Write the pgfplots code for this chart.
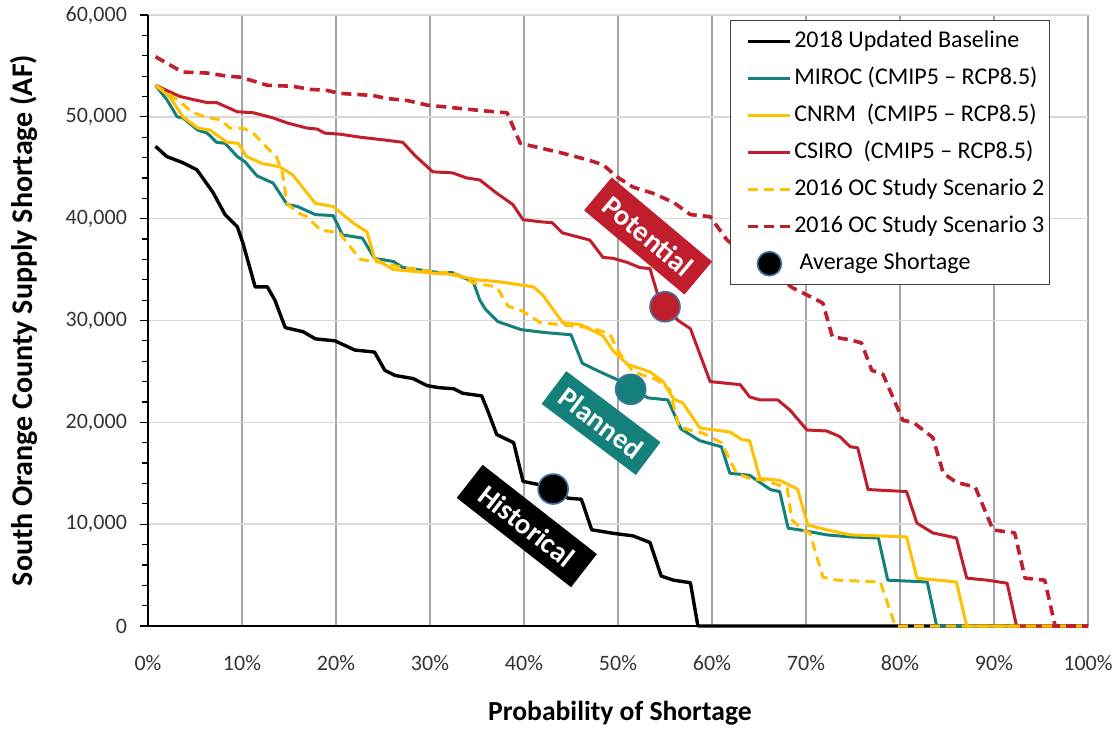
\documentclass[border=0pt]{standalone}
\usepackage{pgfplots}
\pgfplotsset{compat=1.18}
\usepackage{fontspec}
\setmainfont{Carlito}
\definecolor{cteal}{RGB}{20,128,122}
\definecolor{cgold}{RGB}{255,192,0}
\definecolor{cred}{RGB}{192,30,45}
\definecolor{markedge}{RGB}{65,113,156}
\definecolor{ticktext}{RGB}{51,51,51}
\definecolor{vgrid}{RGB}{166,166,166}
\definecolor{hgrid}{RGB}{217,217,217}
\begin{document}
\begin{tikzpicture}
\path[use as bounding box] (-74pt,-51pt) rectangle (485pt,313pt);
\begin{axis}[
  at={(0,0)}, anchor=south west,
  scale only axis, width=470pt, height=305.5pt,
  xmin=0, xmax=100, ymin=0, ymax=60000,
  clip=false,
  axis x line*=bottom, axis y line*=left,
  axis line style={black, line width=1pt},
  xtick={0,10,...,100}, ytick={0,10000,...,60000},
  minor y tick num=4,
  tick align=outside,
  xtick style={draw=none},
  ytick style={black, line width=0.6pt},
  major tick length=4pt, minor tick length=3pt,
  grid=major,
  major x grid style={draw=vgrid, line width=0.6pt},
  major y grid style={draw=hgrid, line width=0.7pt},
  /pgf/number format/assume math mode=true,
  /pgf/number format/1000 sep={,},
  scaled y ticks=false,
  xticklabel={\pgfmathprintnumber{\tick}\%},
  ticklabel style={font=\fontsize{11}{13}\selectfont, text=ticktext},
  yticklabel style={xshift=-3pt},
  xticklabel style={yshift=-7pt},
  xlabel={Probability of Shortage},
  ylabel={South Orange County Supply Shortage (AF)},
  xlabel style={at={(axis description cs:0.502,-0.1424)}, anchor=center, font=\bfseries\fontsize{13.8}{16}\selectfont},
  ylabel style={at={(axis description cs:-0.1319,0.5)}, anchor=center, font=\bfseries\fontsize{15}{18}\selectfont},
  legend style={at={(axis description cs:0.619,0.992)}, anchor=north west,
    draw={rgb,255:red,64;green,64;blue,64}, line width=0.8pt, fill=white,
    font=\fontsize{12}{14}\selectfont, text=black,
    inner xsep=1.5pt, inner ysep=3.5pt, row sep=4.5pt,
    nodes={inner sep=1pt, text height=9pt, text depth=3pt}},
  legend cell align=left,
  legend image code/.code={\path (-6.5pt,0pt); \draw[#1] (0pt,0pt) -- (21pt,0pt);},
]
% 2018 Updated Baseline
\addplot[black, line width=1.7pt, line join=round] coordinates {
(0.8,47100) (2,46100) (3.7,45500) (5.2,44800) (6.9,42600) (8.2,40400) (9.5,39200) (10.1,37600)
(11.4,33300) (12.7,33300) (13.5,32000) (14.6,29300) (16.5,28900) (17.8,28200) (19.9,28000)
(22,27100) (24.1,26900) (25.2,25100) (26.3,24600) (28.2,24300) (29.7,23600) (31,23400)
(32.5,23300) (33.5,22850) (35.5,22600) (36.2,21000) (37.1,18800) (38.9,18000) (39.9,14200)
(41.5,13900) (43.1,13500) (44.7,12550) (46.1,12450) (47.2,9450) (49.5,9100) (51.6,8850)
(53.4,8200) (54.6,4900) (55.9,4500) (57.7,4250) (58.5,0) (100,0)};
\addlegendentry{2018 Updated Baseline}
% MIROC
\addplot[cteal, line width=1.5pt, line join=round] coordinates {
(0.8,53100) (2,51700) (3.1,50000) (3.7,49900) (5.3,48700) (6.3,48400) (7.3,47500) (8.2,47400)
(9.5,46100) (10.3,45600) (11.6,44200) (13.3,43500) (14.8,41400) (15.9,41200) (17.8,40400)
(19.7,40300) (20.7,38400) (22.8,38100) (24.1,36100) (26.1,35800) (27.1,35200) (31,34700)
(32.4,34700) (34.6,33800) (35.3,32000) (35.9,31100) (37.2,29900) (39.7,29100) (42.4,28800)
(45,28600) (46.2,25800) (48.1,24950) (49.9,24200) (51.4,23200) (53.2,22400) (55.3,22200)
(56.7,19350) (58.7,18200) (61,17600) (61.9,15000) (64,14800) (66.2,13400) (67.2,13200)
(68.1,9600) (69.4,9430) (72.2,8950) (74.7,8750) (77.7,8640) (78.7,4500) (82.9,4320)
(83.9,0) (100,0)};
\addlegendentry{MIROC (CMIP5 -- RCP8.5)}
% CNRM
\addplot[cgold, line width=1.5pt, line join=round] coordinates {
(0.8,53100) (2.3,52000) (3.7,50000) (5.3,48900) (6.6,48700) (8.4,47500) (9.6,47400) (10.5,46100)
(12.2,45400) (14,45100) (15.4,44300) (17.8,41500) (19.7,41200) (21.8,39600) (23.3,38700)
(24.1,36100) (26.1,35000) (28.6,34800) (31,34600) (32,34550) (35,34000) (37.4,33800)
(41,33300) (42,32500) (44.1,29800) (46,29600) (48.4,28500) (49.5,27000) (51,25700)
(53.4,24950) (54.8,24000) (55.9,22300) (56.9,21900) (58.7,19450) (61.9,19050) (63.2,18300)
(64,18200) (65.1,14500) (67.2,14300) (69.1,13450) (70.2,9900) (72.3,9430) (74.7,8950)
(80.7,8750) (81.8,4700) (86,4320) (87.1,0) (100,0)};
\addlegendentry{CNRM\ \ (CMIP5 -- RCP8.5)}
% CSIRO
\addplot[cred, line width=1.5pt, line join=round] coordinates {
(0.8,53100) (3.4,52000) (4.8,51700) (6.3,51400) (7.3,51400) (9.5,50500) (11.2,50400)
(13.3,49900) (14.8,49400) (16.9,48900) (18,48800) (18.8,48400) (20.4,48300) (22.6,48000)
(25.4,47700) (27.1,47500) (28.4,46200) (30.3,44600) (32.4,44500) (33.9,44000) (35.3,43800)
(37.1,42500) (38.8,41400) (39.9,39900) (41.7,39700) (43,39600) (44.1,38600) (47,37900)
(48.4,36200) (49.5,36100) (51,35700) (52.3,35200) (53.4,35100) (54.3,32300) (55,31350)
(56.4,30000) (57.7,29200) (59.8,24000) (63,23700) (64,22500) (65.1,22200) (67,22200)
(68.3,21200) (70.1,19250) (72.2,19150) (73.6,18600) (74.7,17600) (75.5,17500) (76.6,13400)
(80.7,13200) (81.8,10100) (83.5,9140) (86,8640) (87.1,4700) (89.3,4500) (91.4,4200)
(92.4,0) (100,0)};
\addlegendentry{CSIRO\ \ (CMIP5 -- RCP8.5)}
% 2016 Scenario 2
\addplot[cgold, line width=1.5pt, dash pattern=on 5pt off 3pt, line join=round] coordinates {
(0.8,53100) (3.1,51700) (4.8,50400) (6.1,50000) (7.7,49700) (8.7,48900) (10.1,48900)
(11.2,48400) (11.9,47700) (13.7,46000) (14.3,44500) (14.8,41500) (15.9,40600) (16.9,40200)
(18.3,38900) (20.4,38600) (21.8,36900) (22.6,36000) (24.7,35700) (27.1,35200) (31,34700)
(32.4,34700) (34.6,33700) (37.1,33300) (38.3,31400) (39.8,30950) (41.7,29800) (43.8,29600)
(47,29300) (49.1,28700) (50.1,26900) (51.6,24950) (54.1,24200) (54.8,23700) (55.5,23200)
(56.5,19500) (59,18950) (61,18000) (62.6,15000) (64,14500) (65.6,14300) (68,13550)
(68.5,10400) (69.7,9430) (70.4,9140) (71.8,4800) (73.3,4500) (77.9,4320) (79.5,0) (100,0)};
\addlegendentry{2016 OC Study Scenario 2}
% 2016 Scenario 3
\addplot[cred, line width=1.8pt, dash pattern=on 5pt off 3pt, line join=round] coordinates {
(0.8,55900) (2.7,54900) (3.7,54400) (6.3,54300) (8.4,54000) (9.8,53900) (10.9,53600)
(12.7,53100) (15.4,53000) (17.2,52700) (19,52600) (20.4,52300) (23.9,52100) (25.4,51800)
(27.6,51600) (29.7,51150) (32.4,50900) (35.6,50600) (38.2,50400) (39.6,47400) (41,47100)
(43.8,46500) (46.7,45800) (48.4,45300) (49.9,44100) (51.6,43100) (53.7,42500) (55.9,41600)
(57.7,40400) (59.8,40200) (61.6,37900) (64,36200) (66.5,34500) (68.6,33200) (71.2,32000)
(71.8,31700) (72.8,28400) (74.7,28100) (75.9,27800) (77,25100) (78.2,24700) (80.3,20200)
(81.4,20000) (83.5,18500) (84.6,15000) (86,14100) (88,13650) (89.6,10100) (89.9,9430)
(92.2,9140) (93.3,4700) (95.4,4500) (96.5,0) (100,0)};
\addlegendentry{2016 OC Study Scenario 3}
% Average shortage markers
\addplot[only marks, mark=*, mark size=7.5pt, mark options={fill=black, draw=markedge, line width=0.8pt},
  legend image code/.code={\path (-6.5pt,0pt) (21pt,0pt); \filldraw[fill=black, draw=markedge, line width=0.8pt] (10.5pt,0pt) circle (6pt);}]
  coordinates {(43.1,13450)};
\addlegendentry{\ Average Shortage}
\addplot[forget plot, only marks, mark=*, mark size=7.5pt, mark options={fill=cteal, draw=markedge, line width=0.8pt}]
  coordinates {(51.35,23240)};
\addplot[forget plot, only marks, mark=*, mark size=7.5pt, mark options={fill=cred, draw=markedge, line width=0.8pt}]
  coordinates {(55,31350)};
% category boxes
\node[fill=cred, text=white, rotate=-40, minimum width=65.5pt, minimum height=21.5pt, inner sep=0pt,
  font=\bfseries\fontsize{14.4}{17}\selectfont] at (axis cs:53.2,38300) {Potential};
\node[fill=cteal, text=white, rotate=-37, minimum width=59pt, minimum height=20.5pt, inner sep=0pt,
  font=\bfseries\fontsize{14.4}{17}\selectfont] at (axis cs:48.2,19930) {Planned};
\node[fill=black, text=white, rotate=-38, minimum width=72.5pt, minimum height=21pt, inner sep=0pt,
  font=\bfseries\fontsize{14.4}{17}\selectfont] at (axis cs:40.3,9820) {Historical};
\end{axis}
\end{tikzpicture}
\end{document}
